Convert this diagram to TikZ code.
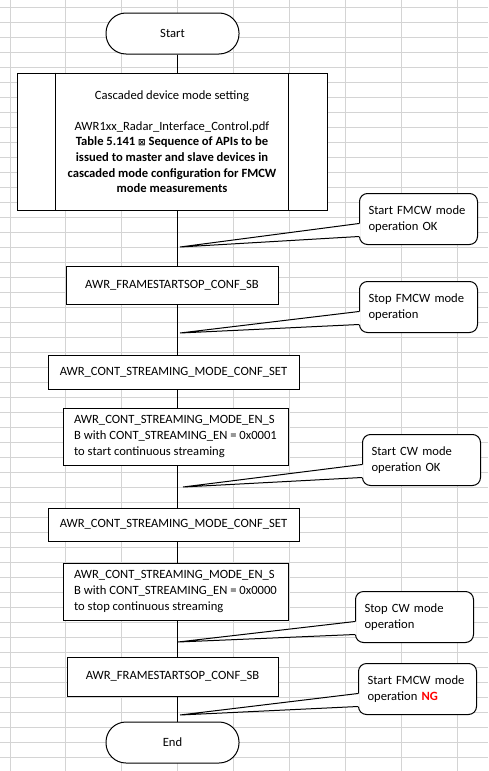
\documentclass[tikz,border=0pt]{standalone}
\usepackage{fontspec}
\setmainfont{Carlito}
\newfontfamily\symfont{DejaVu Sans}
\usepackage{xcolor}
\usetikzlibrary{
    calc,
    positioning
}
\definecolor{gridgray}{HTML}{D4D4D4}
\definecolor{ngred}{HTML}{FF0000}

\begin{document}
\begin{tikzpicture}[
        x=1pt, y=-1pt,
        font=\fontsize{12.6}{15.6}\selectfont,
        gridline/.style={
            gridgray,
            line width=1pt
        },
        terminal/.style={
            draw,
            fill=white,
            line width=1pt,
            rounded corners=20pt,
            minimum width=133pt,
            minimum height=41pt
        },
        apibox/.style={
            draw,
            fill=white,
            line width=1pt,
            inner sep=0pt
        },
        callout/.style={
            draw,
            fill=white,
            line width=1pt,
            rounded corners=8pt,
            anchor=north west,
            minimum width=118pt,
            minimum height=51pt,
            inner xsep=9pt,
            text width=100pt,
            align=left
        },
        flow/.style={
            line width=1pt
        }
    ]
        % spreadsheet background
        \fill[white] (0,0) rectangle (488,771);
        \useasboundingbox (0,0) rectangle (488,771);
        \foreach \k in {0,...,8}
            \draw[gridline] ({10+55.9*\k},0) -- ({10+55.9*\k},771);
        \foreach \j in {0,...,51}
            \draw[gridline] (0,{7.3+15*\j}) -- (488,{7.3+15*\j});

        \coordinate (spine) at (177,0);

        % flow chart
        \node[terminal] (start) at (172.5,33.5) {Start};
        \node[apibox, minimum width=310pt, minimum height=137pt,
            align=center] (setting) at (172,141.5)
            {Cascaded device mode setting\\[15.6pt]
             AWR1xx\_Radar\_Interface\_Control.pdf\\
             \textbf{Table 5.141 {\symfont\fontsize{9}{15.6}\selectfont ⊠} Sequence of APIs to be}\\
             \textbf{issued to master and slave devices in}\\
             \textbf{cascaded mode configuration for FMCW}\\
             \textbf{mode measurements}};
        \draw[flow] ([xshift=39pt]setting.north west) -- ([xshift=39pt]setting.south west);
        \draw[flow] ([xshift=-39pt]setting.north east) -- ([xshift=-39pt]setting.south east);

        \node[apibox, minimum width=212pt, minimum height=38pt] (fsop1) at (172,285)
            {AWR\_FRAMESTARTSOP\_CONF\_SB};
        \node[apibox, minimum width=251pt, minimum height=34pt] (cset1) at (173.5,372)
            {AWR\_CONT\_STREAMING\_MODE\_CONF\_SET};
        \node[apibox, minimum width=225pt, minimum height=57pt,
            align=left] (ensb1) at (175.5,436.5)
            {AWR\_CONT\_STREAMING\_MODE\_EN\_S\\
             B with CONT\_STREAMING\_EN = 0x0001\\
             to start continuous streaming};
        \node[apibox, minimum width=251pt, minimum height=33pt] (cset2) at (173.5,524.5)
            {AWR\_CONT\_STREAMING\_MODE\_CONF\_SET};
        \node[apibox, minimum width=225pt, minimum height=57pt,
            align=left] (ensb2) at (175.5,591.5)
            {AWR\_CONT\_STREAMING\_MODE\_EN\_S\\
             B with CONT\_STREAMING\_EN = 0x0000\\
             to stop continuous streaming};
        \node[apibox, minimum width=211pt, minimum height=39pt] (fsop2) at (172.5,676.5)
            {AWR\_FRAMESTARTSOP\_CONF\_SB};
        \node[terminal] (end) at (172.5,742.5) {End};

        \foreach \a/\b in {start/setting, setting/fsop1, fsop1/cset1, cset1/ensb1,
                ensb1/cset2, cset2/ensb2, ensb2/fsop2, fsop2/end}
            \draw[flow] (\a.south -| spine) -- (\b.north -| spine);

        % comments
        \coordinate (t1) at (180,247);
        \coordinate (t2) at (180,333);
        \coordinate (t3) at (183,487);
        \coordinate (t4) at (178,642);
        \coordinate (t5) at (180,715);

        \node[callout] (c1) at (359,193) {Start FMCW mode\\operation OK};
        \node[callout] (c2) at (359,281) {Stop FMCW mode\\operation};
        \node[callout] (c3) at (362,434) {Start CW mode\\operation OK};
        \node[callout] (c4) at (355,591) {Stop CW mode\\operation};
        \node[callout] (c5) at (358,663)
            {Start FMCW mode\\operation \textbf{\color{ngred}NG}};

        \foreach \c/\t in {c1/t1, c2/t2, c3/t3, c4/t4, c5/t5} {
            \fill[white] ($(\c.west)+(1.5,4.5)$) -- (\t) -- ($(\c.west)+(1.5,17.5)$) -- cycle;
            \draw[flow, line join=miter] ($(\c.west)+(0,4.5)$) -- (\t) -- ($(\c.west)+(0,17.5)$);
        }
    \end{tikzpicture}
\end{document}
